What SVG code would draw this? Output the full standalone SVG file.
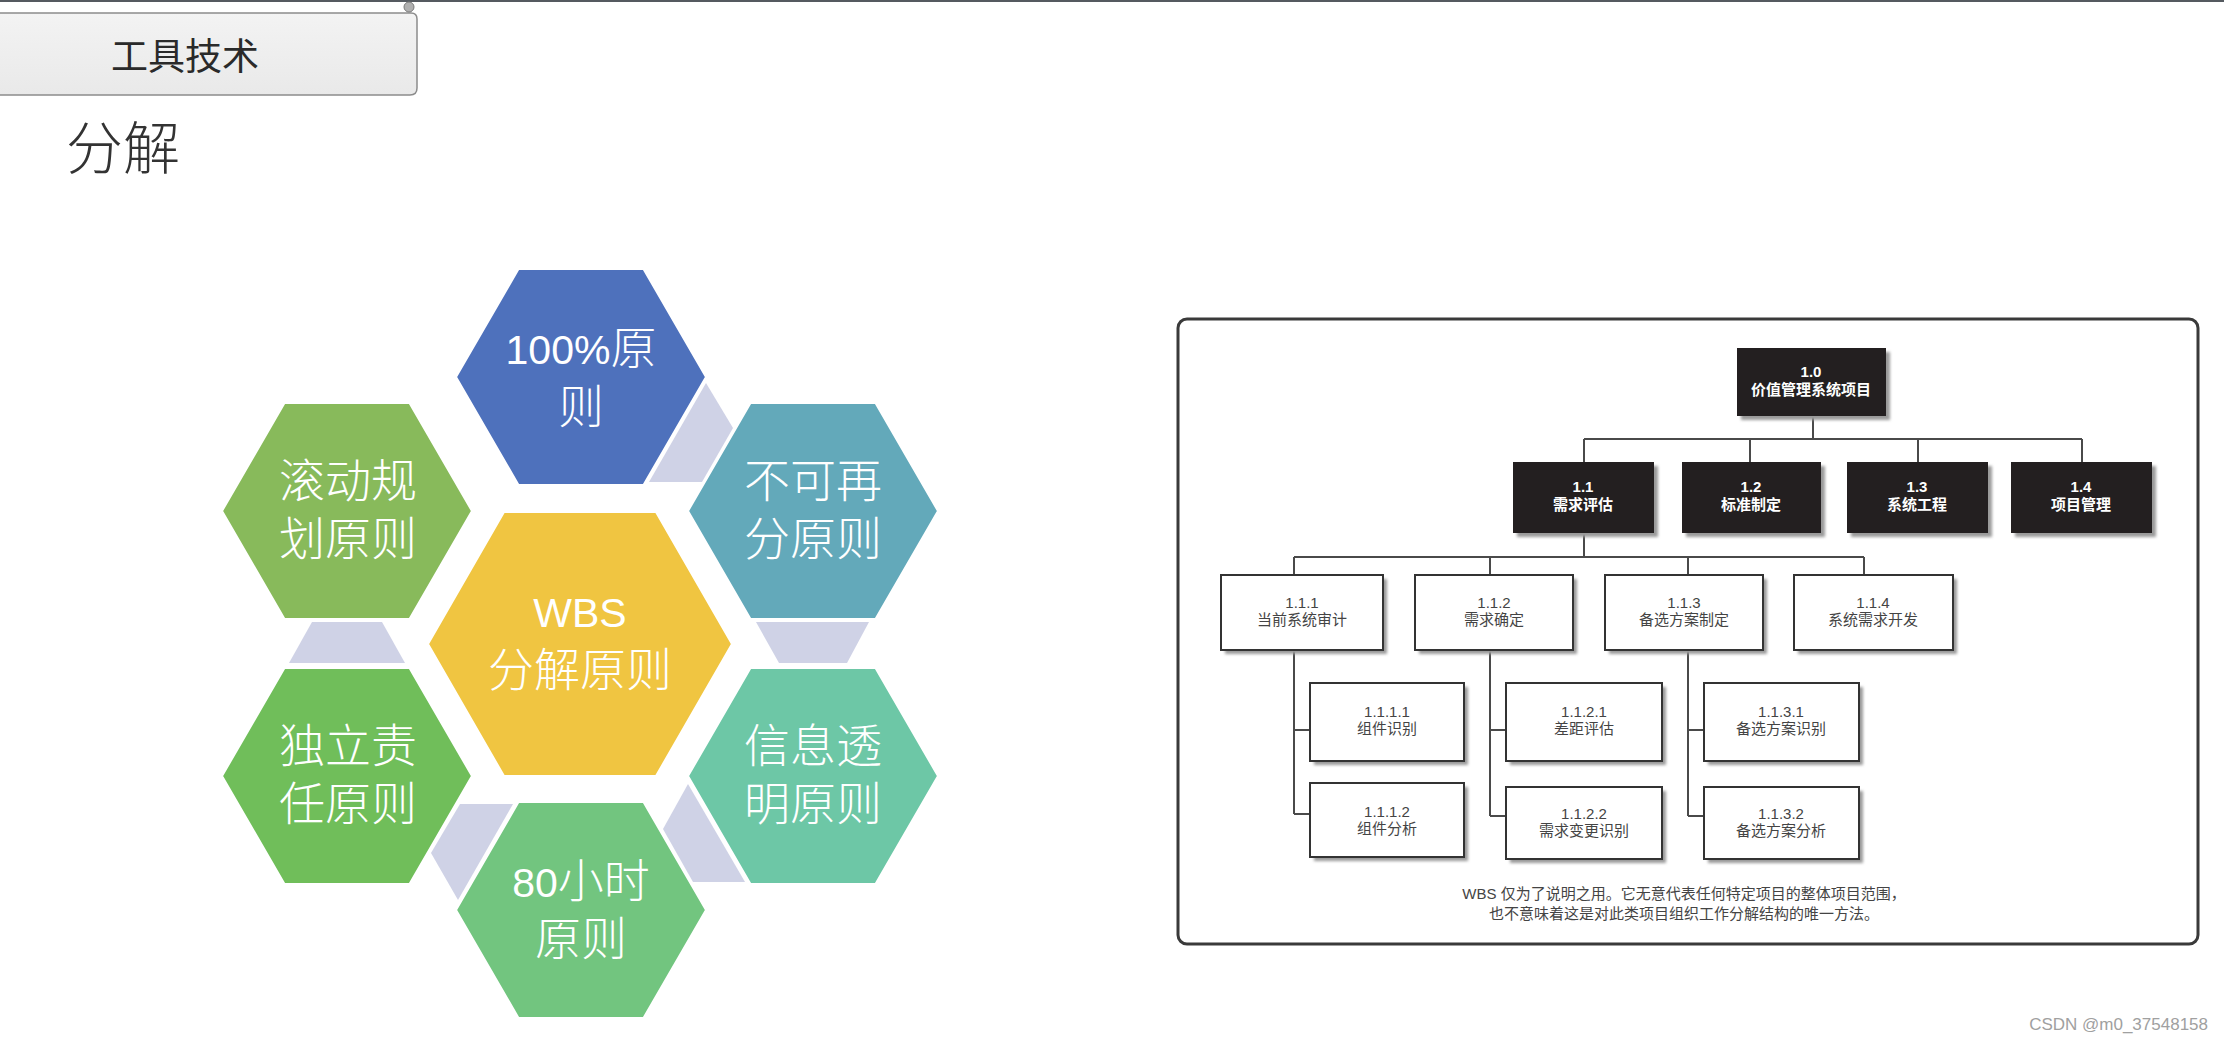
<svg xmlns="http://www.w3.org/2000/svg" width="2224" height="1042" viewBox="0 0 2224 1042">
<defs>
<style>
.hex{stroke:#ffffff;stroke-width:2}
.ht{font-family:"Liberation Sans","Noto Sans CJK SC",sans-serif;font-size:46px;font-weight:300;fill:#ffffff;text-anchor:middle}
.num{font-size:41px}
.gc{fill:#cfd2e6}
.blk{fill:#231f20}
.wht{fill:#ffffff;stroke:#333333;stroke-width:2}
.shd{fill:#9a9a9a;filter:url(#blur)}
.bt{font-family:"Liberation Sans","Noto Sans CJK SC",sans-serif;font-size:15px;font-weight:bold;fill:#ffffff;text-anchor:middle}
.wt{font-family:"Liberation Sans","Noto Sans CJK SC",sans-serif;font-size:15px;fill:#444444;text-anchor:middle}
.ln{stroke:#4a4a4a;stroke-width:2;fill:none}
</style>
<filter id="blur" x="-10%" y="-10%" width="120%" height="120%"><feGaussianBlur stdDeviation="1.8"/></filter>
<linearGradient id="btn" x1="0" y1="0" x2="0" y2="1"><stop offset="0" stop-color="#f3f3f3"/><stop offset="1" stop-color="#e9e9e9"/></linearGradient>
</defs>
<rect x="0" y="0" width="2224" height="1042" fill="#ffffff"/>
<rect x="0" y="0" width="2224" height="2" fill="#555a60"/>

<g id="header-button">
<path d="M-5 13 H411 Q417 13 417 19 V88 Q417 95 410 95 H-5 Z" fill="url(#btn)" stroke="#8c8c8c" stroke-width="1.5"/>
<circle cx="409" cy="7" r="5" fill="#b0b0b0" stroke="#7a7a7a" stroke-width="1"/>
<text x="185" y="70" font-family="Noto Sans CJK SC,sans-serif" font-size="37" fill="#2a2a2a" text-anchor="middle">工具技术</text>
</g>
<g id="title">
<text x="66" y="169" font-family="Noto Sans CJK SC,sans-serif" font-size="57" font-weight="300" fill="#333333">分解</text>
</g>

<g id="hex-connectors">
<polygon class="gc" points="706,383 733,428 702,482 649,482"/>
<polygon class="gc" points="756,622 869,622 847,663 779,663"/>
<polygon class="gc" points="745,882 693,882 663,829 688,784"/>
<polygon class="gc" points="460,804 513,804 458,900 431,853"/>
<polygon class="gc" points="312,622 382,622 405,663 289,663"/>
</g>

<g id="hex-100">
<polygon class="hex" fill="#4e71bc" points="456,377 518.5,269 643.5,269 706,377 643.5,485 518.5,485"/>
<text class="ht" x="581" y="364"><tspan class="num">100%</tspan>原</text>
<text class="ht" x="581" y="423">则</text>
</g>
<g id="hex-rolling">
<polygon class="hex" fill="#88ba5b" points="222,511 284.5,403 409.5,403 472,511 409.5,619 284.5,619"/>
<text class="ht" x="348" y="497">滚动规</text>
<text class="ht" x="348" y="555">划原则</text>
</g>
<g id="hex-indivisible">
<polygon class="hex" fill="#63a9ba" points="688,511 750.5,403 875.5,403 938,511 875.5,619 750.5,619"/>
<text class="ht" x="813" y="497">不可再</text>
<text class="ht" x="813" y="555">分原则</text>
</g>
<g id="hex-wbs">
<polygon class="hex" fill="#f0c541" points="428,644 504,512 656,512 732,644 656,776 504,776"/>
<text class="ht" x="580" y="627"><tspan class="num">WBS</tspan></text>
<text class="ht" x="580" y="686">分解原则</text>
</g>
<g id="hex-independent">
<polygon class="hex" fill="#70be5a" points="222,776 284.5,668 409.5,668 472,776 409.5,884 284.5,884"/>
<text class="ht" x="348" y="762">独立责</text>
<text class="ht" x="348" y="820">任原则</text>
</g>
<g id="hex-transparent">
<polygon class="hex" fill="#6dc7a6" points="688,776 750.5,668 875.5,668 938,776 875.5,884 750.5,884"/>
<text class="ht" x="813" y="762">信息透</text>
<text class="ht" x="813" y="820">明原则</text>
</g>
<g id="hex-80h">
<polygon class="hex" fill="#72c57f" points="456,910 518.5,802 643.5,802 706,910 643.5,1018 518.5,1018"/>
<text class="ht" x="581" y="897"><tspan class="num">80</tspan>小时</text>
<text class="ht" x="581" y="955">原则</text>
</g>

<g id="wbs-frame">
<rect x="1178" y="319" width="1020" height="625" rx="9" fill="#ffffff" stroke="#3a3a3a" stroke-width="3"/>
</g>

<g id="wbs-connectors">
<path class="ln" d="M1813 416 V439 M1584 439 H2082 M1584 439 V462 M1750 439 V462 M1918 439 V462 M2082 439 V462"/>
<path class="ln" d="M1584 533 V557 M1294 557 H1864 M1294 557 V575 M1490 557 V575 M1688 557 V575 M1864 557 V575"/>
<path class="ln" d="M1294 650 V814 M1294 730 H1310 M1294 814 H1310"/>
<path class="ln" d="M1490 650 V816 M1490 730 H1506 M1490 816 H1506"/>
<path class="ln" d="M1688 650 V816 M1688 730 H1704 M1688 816 H1704"/>
</g>

<g id="n1-0">
<rect class="shd" x="1741" y="352" width="149" height="68"/>
<rect class="blk" x="1737" y="348" width="149" height="68"/>
<text class="bt" x="1811" y="377">1.0</text>
<text class="bt" x="1811" y="395">价值管理系统项目</text>
</g>
<g id="n1-1">
<rect class="shd" x="1517" y="466" width="141" height="71"/>
<rect class="blk" x="1513" y="462" width="141" height="71"/>
<text class="bt" x="1583" y="492">1.1</text>
<text class="bt" x="1583" y="510">需求评估</text>
</g>
<g id="n1-2">
<rect class="shd" x="1686" y="466" width="139" height="71"/>
<rect class="blk" x="1682" y="462" width="139" height="71"/>
<text class="bt" x="1751" y="492">1.2</text>
<text class="bt" x="1751" y="510">标准制定</text>
</g>
<g id="n1-3">
<rect class="shd" x="1851" y="466" width="141" height="71"/>
<rect class="blk" x="1847" y="462" width="141" height="71"/>
<text class="bt" x="1917" y="492">1.3</text>
<text class="bt" x="1917" y="510">系统工程</text>
</g>
<g id="n1-4">
<rect class="shd" x="2015" y="466" width="141" height="71"/>
<rect class="blk" x="2011" y="462" width="141" height="71"/>
<text class="bt" x="2081" y="492">1.4</text>
<text class="bt" x="2081" y="510">项目管理</text>
</g>

<g id="n1-1-1">
<rect class="shd" x="1225" y="579" width="162" height="75"/>
<rect class="wht" x="1221" y="575" width="162" height="75"/>
<text class="wt" x="1302" y="608">1.1.1</text>
<text class="wt" x="1302" y="625">当前系统审计</text>
</g>
<g id="n1-1-2">
<rect class="shd" x="1419" y="579" width="158" height="75"/>
<rect class="wht" x="1415" y="575" width="158" height="75"/>
<text class="wt" x="1494" y="608">1.1.2</text>
<text class="wt" x="1494" y="625">需求确定</text>
</g>
<g id="n1-1-3">
<rect class="shd" x="1609" y="579" width="158" height="75"/>
<rect class="wht" x="1605" y="575" width="158" height="75"/>
<text class="wt" x="1684" y="608">1.1.3</text>
<text class="wt" x="1684" y="625">备选方案制定</text>
</g>
<g id="n1-1-4">
<rect class="shd" x="1798" y="579" width="159" height="75"/>
<rect class="wht" x="1794" y="575" width="159" height="75"/>
<text class="wt" x="1873" y="608">1.1.4</text>
<text class="wt" x="1873" y="625">系统需求开发</text>
</g>

<g id="n1-1-1-1">
<rect class="shd" x="1314" y="687" width="154" height="78"/>
<rect class="wht" x="1310" y="683" width="154" height="78"/>
<text class="wt" x="1387" y="717">1.1.1.1</text>
<text class="wt" x="1387" y="734">组件识别</text>
</g>
<g id="n1-1-1-2">
<rect class="shd" x="1314" y="787" width="154" height="74"/>
<rect class="wht" x="1310" y="783" width="154" height="74"/>
<text class="wt" x="1387" y="817">1.1.1.2</text>
<text class="wt" x="1387" y="834">组件分析</text>
</g>
<g id="n1-1-2-1">
<rect class="shd" x="1510" y="687" width="156" height="78"/>
<rect class="wht" x="1506" y="683" width="156" height="78"/>
<text class="wt" x="1584" y="717">1.1.2.1</text>
<text class="wt" x="1584" y="734">差距评估</text>
</g>
<g id="n1-1-2-2">
<rect class="shd" x="1510" y="791" width="156" height="72"/>
<rect class="wht" x="1506" y="787" width="156" height="72"/>
<text class="wt" x="1584" y="819">1.1.2.2</text>
<text class="wt" x="1584" y="836">需求变更识别</text>
</g>
<g id="n1-1-3-1">
<rect class="shd" x="1708" y="687" width="155" height="78"/>
<rect class="wht" x="1704" y="683" width="155" height="78"/>
<text class="wt" x="1781" y="717">1.1.3.1</text>
<text class="wt" x="1781" y="734">备选方案识别</text>
</g>
<g id="n1-1-3-2">
<rect class="shd" x="1708" y="791" width="155" height="72"/>
<rect class="wht" x="1704" y="787" width="155" height="72"/>
<text class="wt" x="1781" y="819">1.1.3.2</text>
<text class="wt" x="1781" y="836">备选方案分析</text>
</g>

<g id="wbs-caption">
<text class="wt" x="1684" y="899" font-size="15.5">WBS 仅为了说明之用。它无意代表任何特定项目的整体项目范围，</text>
<text class="wt" x="1684" y="919" font-size="15.5">也不意味着这是对此类项目组织工作分解结构的唯一方法。</text>
</g>

<g id="watermark">
<text x="2208" y="1030" font-family="Liberation Sans,Arial,sans-serif" font-size="17" fill="#a0a0a0" text-anchor="end">CSDN @m0_37548158</text>
</g>
</svg>
